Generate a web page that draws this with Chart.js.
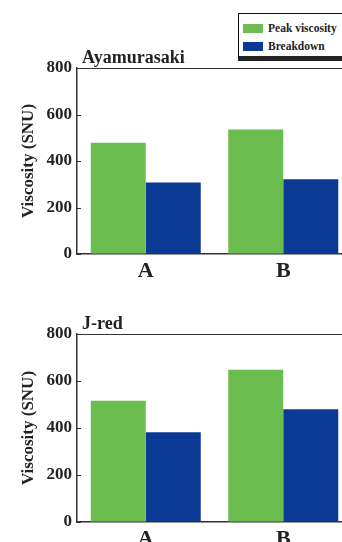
<!DOCTYPE html>
<html>
<head>
<meta charset="utf-8">
<script src="https://cdn.jsdelivr.net/npm/chart.js@4/dist/chart.umd.min.js"></script>
<style>
  html, body { margin: 0; padding: 0; width: 342px; height: 542px; overflow: hidden; background: #fff; }
  .panel { position: absolute; left: 0; }
  #legend {
    position: absolute; left: 238px; top: 13px; width: 120px; height: 42px;
    border: 1px solid #111; border-bottom: 5px solid #222; background: #fff;
    font-family: "Liberation Serif", "Times New Roman", serif; font-weight: bold; font-size: 11.5px; color: #222;
  }
  #legend .item { position: absolute; left: 4px; height: 12px; line-height: 12px; white-space: nowrap; }
  #legend .sw { display: inline-block; width: 20px; height: 9px; vertical-align: middle; margin-right: 5px; position: relative; top: -1px; }
</style>
</head>
<body>
<canvas id="c1" class="panel" style="top:0px" width="360" height="290"></canvas>
<canvas id="c2" class="panel" style="top:280px" width="360" height="278"></canvas>
<div id="legend">
  <div class="item" style="top:8px"><span class="sw" id="sw1"></span><span id="lg1"></span></div>
  <div class="item" style="top:26px"><span class="sw" id="sw2"></span><span id="lg2"></span></div>
</div>
<script>
// ---- data ----
const categories = ["A", "B"];
const seriesNames = ["Peak viscosity", "Breakdown"];
const ayamurasakiPeak = [479, 536];
const ayamurasakiBreakdown = [308, 321];
const jredPeak = [516, 648];
const jredBreakdown = [382, 480];
const yTicks = [0, 200, 400, 600, 800];
const panelTitles = ["Ayamurasaki", "J-red"];

const GREEN = "#6cbd50";
const BLUE = "#0b3a94";
const FONT = "'Liberation Serif', 'Times New Roman', serif";

document.getElementById("sw1").style.background = GREEN;
document.getElementById("sw2").style.background = BLUE;
document.getElementById("lg1").textContent = seriesNames[0];
document.getElementById("lg2").textContent = seriesNames[1];

const panelPlugin = {
  id: "panelDeco",
  afterDraw(chart, args, opts) {
    const ctx = chart.ctx;
    const y = chart.scales.y;
    const area = chart.chartArea;
    ctx.save();
    // inward ticks
    ctx.strokeStyle = "#333";
    ctx.lineWidth = 1;
    yTicks.forEach(v => {
      const py = Math.round(y.getPixelForValue(v)) + 0.5;
      ctx.beginPath();
      ctx.moveTo(area.left, py);
      ctx.lineTo(area.left + 4, py);
      ctx.stroke();
    });
    // panel title
    ctx.fillStyle = "#222";
    ctx.font = "bold 18px " + FONT;
    ctx.textAlign = "left";
    ctx.textBaseline = "alphabetic";
    ctx.fillText(opts.title, area.left + 5, area.top - 5);
    ctx.restore();
  }
};

function makeChart(id, title, peak, breakdown, padTop) {
  return new Chart(document.getElementById(id), {
    type: "bar",
    data: {
      labels: categories,
      datasets: [
        { label: seriesNames[0], data: peak, backgroundColor: GREEN, borderWidth: 0 },
        { label: seriesNames[1], data: breakdown, backgroundColor: BLUE, borderWidth: 0 }
      ]
    },
    options: {
      responsive: false,
      animation: false,
      devicePixelRatio: 1,
      layout: { padding: { left: 0, right: 8, top: padTop, bottom: 0 } },
      plugins: { legend: { display: false }, tooltip: { enabled: false }, panelDeco: { title: title } },
      datasets: { bar: { categoryPercentage: 0.8, barPercentage: 1.0 } },
      scales: {
        x: {
          grid: { display: false, drawTicks: false },
          border: { display: true, color: "#333", width: 1.5 },
          ticks: { color: "#222", font: { family: FONT, size: 22, weight: "bold" }, padding: 4 },
          afterFit(s) { s.height = 36; }
        },
        y: {
          min: 0, max: 800,
          afterBuildTicks(s) { s.ticks = yTicks.map(v => ({ value: v })); },
          grid: {
            drawTicks: false,
            color: ctx => (ctx.tick && ctx.tick.value === 800) ? "#333" : "rgba(0,0,0,0)",
            lineWidth: 1
          },
          border: { display: true, color: "#333", width: 1.5 },
          ticks: { color: "#222", font: { family: FONT, size: 17, weight: "bold" }, padding: 5 },
          title: { display: true, text: "Viscosity (SNU)", color: "#222", font: { family: FONT, size: 17, weight: "bold" }, padding: { top: 18, bottom: 0 } },
          afterFit(s) { s.width = 77; }
        }
      }
    },
    plugins: [panelPlugin]
  });
}

makeChart("c1", panelTitles[0], ayamurasakiPeak, ayamurasakiBreakdown, 68);
makeChart("c2", panelTitles[1], jredPeak, jredBreakdown, 54);
</script>
</body>
</html>
